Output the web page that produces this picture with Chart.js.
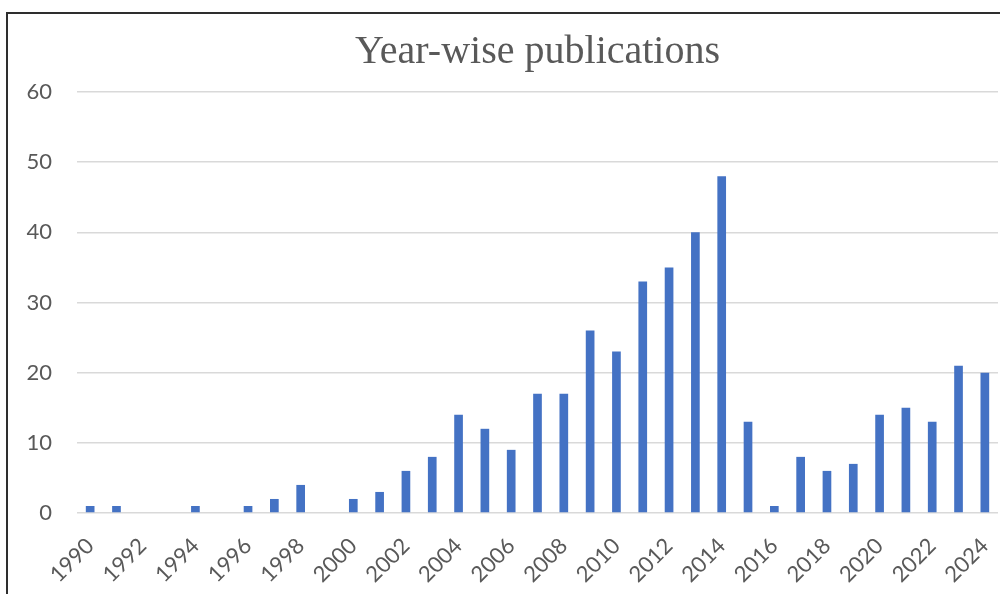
<!DOCTYPE html>
<html>
<head>
<meta charset="utf-8">
<title>Year-wise publications</title>
<script src="https://cdn.jsdelivr.net/npm/chart.js@4.4.1/dist/chart.umd.min.js"></script>
<style>
  html, body { margin: 0; padding: 0; background: #ffffff; overflow: hidden; }
  #wrap { position: relative; width: 1000px; height: 594px; }
  #frame {
    position: absolute; left: 6px; top: 12px; width: 1200px; height: 800px;
    border: 2px solid #2e2e2e; box-sizing: border-box;
  }
  #chart { position: absolute; left: 0; top: 0; }
</style>
</head>
<body>
<div id="wrap">
  <div id="frame"></div>
  <canvas id="chart" width="1000" height="594"></canvas>
</div>
<script>
// Publication counts per year, 1990–2024
const years = [
  '1990','1991','1992','1993','1994','1995','1996','1997','1998','1999',
  '2000','2001','2002','2003','2004','2005','2006','2007','2008','2009',
  '2010','2011','2012','2013','2014','2015','2016','2017','2018','2019',
  '2020','2021','2022','2023','2024'
];
const publications = [
  1, 1, 0, 0, 1, 0, 1, 2, 4, 0,
  2, 3, 6, 8, 14, 12, 9, 17, 17, 26,
  23, 33, 35, 40, 48, 13, 1, 8, 6, 7,
  14, 15, 13, 21, 20
];
const yTicks = [0, 10, 20, 30, 40, 50, 60];

const textGrey = '#595959';
const tickFont = { family: 'Lato', size: 22 };

new Chart(document.getElementById('chart'), {
  type: 'bar',
  data: {
    labels: years,
    datasets: [{
      label: 'Publications',
      data: publications,
      backgroundColor: '#4472C4',
      borderWidth: 0,
      categoryPercentage: 1.0,
      barPercentage: 0.33
    }]
  },
  options: {
    responsive: false,
    animation: false,
    layout: { padding: { top: 0, left: 0, right: 2, bottom: 0 } },
    plugins: {
      legend: { display: false },
      tooltip: { enabled: false },
      title: {
        display: true,
        text: 'Year-wise publications',
        fullSize: false,
        color: textGrey,
        font: { family: 'Liberation Serif', size: 40, weight: 'normal' },
        padding: { top: 28, bottom: 16 }
      }
    },
    scales: {
      x: {
        grid: { display: false, drawTicks: false },
        border: { display: false },
        ticks: {
          autoSkip: false,
          minRotation: 45,
          maxRotation: 45,
          padding: 20,
          color: textGrey,
          font: tickFont,
          callback: (v, i) => (i % 2 === 0 ? years[i] : '')
        },
        afterFit: (scale) => {
          scale.height = 81;
          scale.paddingLeft = 0;
          scale.paddingRight = 0;
        }
      },
      y: {
        min: yTicks[0],
        max: yTicks[yTicks.length - 1],
        afterBuildTicks: (scale) => { scale.ticks = yTicks.map(v => ({ value: v })); },
        grid: { color: '#d9d9d9', lineWidth: 1.5, drawTicks: false },
        border: { display: false },
        ticks: { padding: 25, color: textGrey, font: tickFont },
        afterFit: (scale) => { scale.width = 77; }
      }
    }
  }
});
</script>
</body>
</html>
